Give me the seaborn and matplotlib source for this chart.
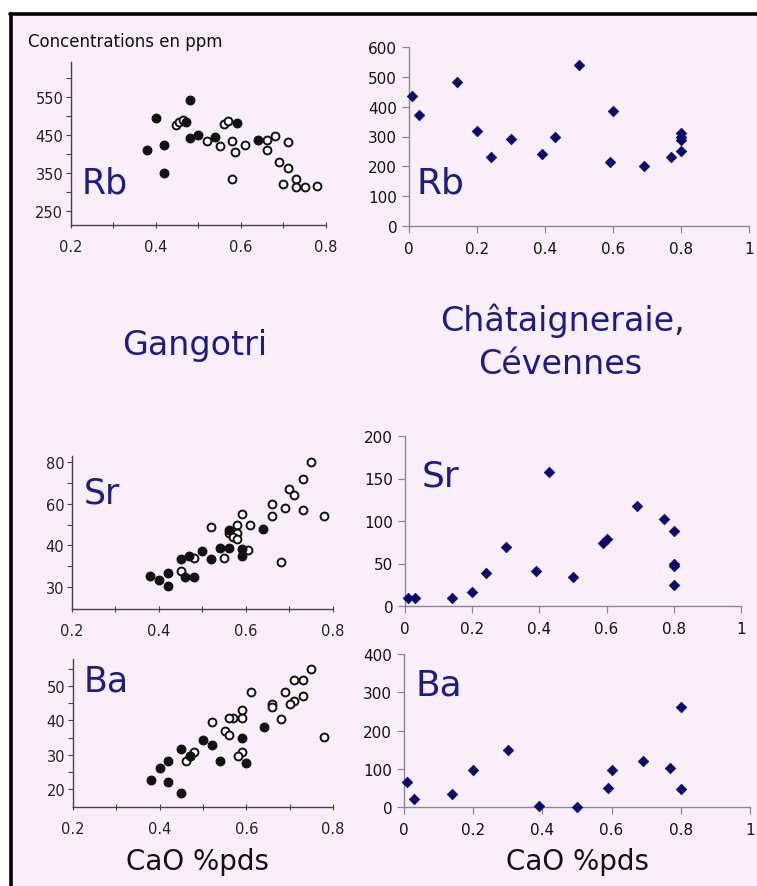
import numpy as np
import pandas as pd
import matplotlib
matplotlib.use("Agg")
import matplotlib.pyplot as plt
import seaborn as sns
from matplotlib.patches import Rectangle
from matplotlib.lines import Line2D
from matplotlib.ticker import FixedLocator, NullFormatter

# ---------------- data : Gangotri (left column) ----------------
rb_g_filled_x = [0.38, 0.40, 0.42, 0.42, 0.48, 0.47, 0.48, 0.50, 0.54, 0.59, 0.64]
rb_g_filled_y = [411, 495, 424, 349, 542, 484, 442, 450, 445, 482, 437]
rb_g_open_x = [0.448, 0.455, 0.464, 0.52, 0.55, 0.56, 0.57, 0.58, 0.585, 0.61, 0.58,
               0.66, 0.68, 0.71, 0.66, 0.69, 0.71, 0.70, 0.73, 0.73, 0.75, 0.78]
rb_g_open_y = [476, 483, 489, 435, 420, 480, 486, 433, 405, 424, 333,
               437, 447, 431, 410, 380, 364, 321, 334, 313, 313, 316]

sr_g_filled_x = [0.38, 0.40, 0.42, 0.42, 0.45, 0.47, 0.46, 0.48, 0.50, 0.52, 0.54, 0.56, 0.56, 0.59, 0.59, 0.64]
sr_g_filled_y = [32.8, 31.7, 33.4, 30.4, 36.7, 37.4, 32.4, 32.4, 38.7, 36.7, 39.4, 39.4, 47.5, 37.4, 39.1, 47.8]
sr_g_open_x = [0.75, 0.73, 0.70, 0.71, 0.69, 0.73, 0.66, 0.66, 0.78, 0.59, 0.52, 0.58, 0.61,
               0.56, 0.58, 0.57, 0.58, 0.605, 0.55, 0.48, 0.45, 0.68]
sr_g_open_y = [80, 72, 67, 64, 58, 57, 60, 54, 54, 55, 49, 50, 50,
               46, 46, 44, 43, 39, 37, 37, 34, 36]

ba_g_filled_x = [0.38, 0.40, 0.42, 0.42, 0.45, 0.45, 0.47, 0.50, 0.52, 0.54, 0.59, 0.60, 0.64]
ba_g_filled_y = [22.7, 26.3, 28.3, 22.2, 31.7, 18.8, 29.6, 34.3, 32.9, 28.3, 34.9, 27.5, 38.2]
ba_g_open_x = [0.75, 0.71, 0.73, 0.69, 0.73, 0.71, 0.70, 0.66, 0.66, 0.61, 0.59, 0.59, 0.57,
               0.56, 0.68, 0.55, 0.56, 0.52, 0.78, 0.59, 0.58, 0.48, 0.47, 0.46]
ba_g_open_y = [55.1, 51.7, 51.7, 48.4, 47.0, 45.8, 44.8, 44.8, 43.9, 48.4, 43.1, 40.7, 40.7,
               40.7, 40.5, 37.0, 35.8, 39.5, 35.1, 30.9, 29.7, 30.9, 29.7, 28.3]

# ---------------- data : Châtaigneraie, Cévennes (right column) ----------------
rb_c_x = [0.01, 0.03, 0.14, 0.20, 0.24, 0.30, 0.39, 0.43, 0.50, 0.59, 0.60, 0.69, 0.77, 0.80, 0.80, 0.80, 0.80]
rb_c_y = [436, 372, 483, 319, 232, 293, 242, 298, 538, 213, 385, 201, 232, 313, 300, 287, 253]
sr_c_x = [0.01, 0.03, 0.14, 0.20, 0.24, 0.30, 0.39, 0.43, 0.50, 0.59, 0.60, 0.69, 0.77, 0.80, 0.80, 0.80, 0.80]
sr_c_y = [9, 9, 9, 16, 39, 69, 41, 158, 34, 74, 79, 118, 102, 88, 50, 47, 25]
ba_c_x = [0.01, 0.03, 0.14, 0.20, 0.30, 0.39, 0.50, 0.59, 0.60, 0.69, 0.77, 0.80, 0.80]
ba_c_y = [65, 20, 33, 98, 149, 3, 0, 49, 98, 120, 103, 262, 48]

# tick labels
left_x_ticks = [0.2, 0.4, 0.6, 0.8]
rb_g_ticks = [250, 350, 450, 550]
sr_g_ticks = [30, 40, 60, 80]
ba_g_ticks = [20, 30, 40, 50]
right_x_ticks = [0, 0.2, 0.4, 0.6, 0.8, 1]
right_x_labels = ["0", "0.2", "0.4", "0.6", "0.8", "1"]
rb_c_ticks = [0, 100, 200, 300, 400, 500, 600]
sr_c_ticks = [0, 50, 100, 150, 200]
ba_c_ticks = [0, 100, 200, 300, 400]

# ---------------- style ----------------
sns.set_theme(style="white")
plt.rcParams['font.family'] = ['DejaVu Sans']
PINK = "#fbeefb"
NAVY = "#0a0a6e"
TXT = "#1c1c86"

W, H = 757, 887
fig = plt.figure(figsize=(W / 100, H / 100), dpi=100)
fig.patch.set_facecolor("white")


def box(l, t, r, b):
    return [l / W, 1 - b / H, (r - l) / W, (b - t) / H]


fig.patches.append(Rectangle((10 / W, 0), 1 - 10 / W, 1 - 14.5 / H, transform=fig.transFigure,
                             facecolor=PINK, edgecolor="none", zorder=-10))
fig.add_artist(Line2D([11 / W, 11 / W], [0, 1 - 14.5 / H], color="black", lw=2.6,
                      transform=fig.transFigure, zorder=-5))
fig.add_artist(Line2D([10 / W, 1], [1 - 14.5 / H, 1 - 14.5 / H], color="black", lw=2.6,
                      transform=fig.transFigure, zorder=-5))


def style_left(ax):
    ax.set_facecolor("none")
    for s in ["top", "right"]:
        ax.spines[s].set_visible(False)
    for s in ["left", "bottom"]:
        ax.spines[s].set_color("#444444")
        ax.spines[s].set_linewidth(1.0)
    ax.set_xlim(0.2, 0.8)
    ax.set_xticks(left_x_ticks)
    ax.set_xticklabels([f"{v:.1f}" for v in left_x_ticks])
    ax.xaxis.set_minor_locator(FixedLocator([0.3, 0.5, 0.7]))
    ax.tick_params(axis="x", which="both", direction="inout", length=4, width=0.8,
                   color="#444444", labelsize=10.5, labelcolor="#222222", pad=8, bottom=True)
    ax.tick_params(axis="y", which="both", direction="out", length=3.5, width=0.8,
                   color="#444444", labelsize=10.5, labelcolor="#222222", pad=2, left=True)
    ax.set_xlabel("")
    ax.set_ylabel("")


def style_right(ax, yticks, ylim):
    ax.set_facecolor("none")
    for s in ["top", "right"]:
        ax.spines[s].set_visible(False)
    for s in ["left", "bottom"]:
        ax.spines[s].set_color("#8a8a8a")
        ax.spines[s].set_linewidth(1.0)
    ax.set_xlim(0, 1)
    ax.set_ylim(*ylim)
    ax.set_xticks(right_x_ticks)
    ax.set_xticklabels(right_x_labels)
    ax.set_yticks(yticks)
    ax.set_yticklabels([str(v) for v in yticks])
    ax.tick_params(axis="both", direction="out", length=5, width=0.9, color="#8a8a8a",
                   labelsize=11, labelcolor="#111111", bottom=True, left=True)
    ax.tick_params(axis="x", pad=6)
    ax.set_xlabel("")
    ax.set_ylabel("")


def left_scatter(ax, fx, fy, ox, oy):
    dff = pd.DataFrame({"CaO": fx, "val": fy})
    dfo = pd.DataFrame({"CaO": ox, "val": oy})
    sns.scatterplot(data=dfo, x="CaO", y="val", ax=ax, marker="o", s=32, color="white",
                    edgecolor="#111111", linewidth=1.4, legend=False, clip_on=False, zorder=3)
    sns.scatterplot(data=dff, x="CaO", y="val", ax=ax, marker="o", s=40, color="#111111",
                    edgecolor="#111111", linewidth=0.8, legend=False, clip_on=False, zorder=4)


def right_scatter(ax, x, y):
    df = pd.DataFrame({"CaO": x, "val": y})
    sns.scatterplot(data=df, x="CaO", y="val", ax=ax, marker="D", s=28, color=NAVY,
                    edgecolor=NAVY, linewidth=0.6, legend=False, clip_on=False, zorder=3)


# ---- Rb Gangotri ----
ax1 = fig.add_axes(box(71, 63, 326, 226))
left_scatter(ax1, rb_g_filled_x, rb_g_filled_y, rb_g_open_x, rb_g_open_y)
style_left(ax1)
ax1.set_ylim(213, 642)
ax1.set_yticks(rb_g_ticks)
ax1.yaxis.set_minor_locator(FixedLocator([300, 400, 500, 600]))

# ---- Sr Gangotri (irregular axis: equal spacing for 30, 40, 60, 80) ----
KV = [-1000.0, 30.0, 40.0, 60.0, 80.0, 1000.0]
KP = [-103.0, 0.0, 1.0, 2.0, 3.0, 49.0]


def sr_fwd(v):
    return np.interp(v, KV, KP)


def sr_inv(p):
    return np.interp(p, KP, KV)


ax3 = fig.add_axes(box(72, 457, 333, 610))
left_scatter(ax3, sr_g_filled_x, sr_g_filled_y, sr_g_open_x, sr_g_open_y)
style_left(ax3)
ax3.set_yscale("function", functions=(sr_fwd, sr_inv))
ax3.set_ylim(24.8, 82.8)
ax3.yaxis.set_major_locator(FixedLocator(sr_g_ticks))
ax3.yaxis.set_minor_locator(FixedLocator([35, 50, 70]))
ax3.set_yticklabels([str(v) for v in sr_g_ticks])
ax3.yaxis.set_minor_formatter(NullFormatter())

# ---- Ba Gangotri ----
ax5 = fig.add_axes(box(73, 660, 333, 808))
left_scatter(ax5, ba_g_filled_x, ba_g_filled_y, ba_g_open_x, ba_g_open_y)
style_left(ax5)
ax5.set_ylim(14.8, 57.9)
ax5.set_yticks(ba_g_ticks)
ax5.yaxis.set_minor_locator(FixedLocator([25, 35, 45, 55]))

# ---- right column ----
ax2 = fig.add_axes(box(409, 48, 749, 227))
right_scatter(ax2, rb_c_x, rb_c_y)
style_right(ax2, rb_c_ticks, (0, 600))

ax4 = fig.add_axes(box(405, 437, 741, 607))
right_scatter(ax4, sr_c_x, sr_c_y)
style_right(ax4, sr_c_ticks, (0, 200))

ax6 = fig.add_axes(box(404, 655, 750, 808))
right_scatter(ax6, ba_c_x, ba_c_y)
style_right(ax6, ba_c_ticks, (0, 400))

# ---------------- texts ----------------
def ftext(x, y, s, **kw):
    fig.text(x / W, 1 - y / H, s, **kw)


ftext(28, 42, "Concentrations en ppm", fontsize=12, color="#111111", ha="left", va="center")
ftext(105, 184, "Rb", fontsize=25, color=TXT, ha="center", va="center")
ftext(440, 184, "Rb", fontsize=26, color=TXT, ha="center", va="center")
ftext(102, 494, "Sr", fontsize=25, color=TXT, ha="center", va="center")
ftext(440, 477, "Sr", fontsize=26, color=TXT, ha="center", va="center")
ftext(106, 681, "Ba", fontsize=25, color=TXT, ha="center", va="center")
ftext(439, 686, "Ba", fontsize=26, color=TXT, ha="center", va="center")
ftext(195, 345, "Gangotri", fontsize=24, color=TXT, ha="center", va="center")
ftext(563, 321, "Châtaigneraie,", fontsize=24, color=TXT, ha="center", va="center")
ftext(560, 365, "Cévennes", fontsize=24, color=TXT, ha="center", va="center")
ftext(197, 862, "CaO %pds", fontsize=20, color="#111111", ha="center", va="center")
ftext(577, 862, "CaO %pds", fontsize=20, color="#111111", ha="center", va="center")

fig.savefig("out.png", dpi=100, facecolor="white")
